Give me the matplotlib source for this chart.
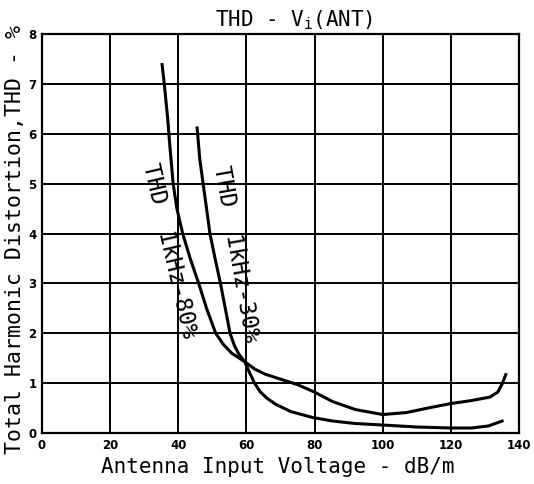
import numpy as np
import matplotlib
matplotlib.use("Agg")
import matplotlib.pyplot as plt

plt.rcParams['font.family'] = ['DejaVu Sans Mono', 'DejaVu Sans']

# curve: THD at 1kHz, 80% modulation
x80 = [35.2, 35.9, 36.9, 37.6, 38.5, 39.6, 41.3, 43.5, 46.0, 48.3, 51.0, 53.2, 55.7,
       59.5, 62.5, 65.5, 70.0, 75.0, 80.0, 85.3, 92.0, 100.0, 107.0, 114.0, 120.0,
       126.0, 131.5, 133.8, 135.2, 136.3]
y80 = [7.42, 7.0, 6.3, 5.7, 5.0, 4.5, 4.0, 3.5, 3.0, 2.5, 2.0, 1.78, 1.6,
       1.43, 1.28, 1.18, 1.08, 0.97, 0.82, 0.63, 0.47, 0.37, 0.41, 0.51, 0.59,
       0.65, 0.72, 0.82, 1.0, 1.2]

# THD at 1kHz, 30% modulation
x30 = [45.5, 46.3, 47.3, 48.3, 49.3, 50.8, 52.4, 53.8, 55.2, 56.5, 57.8, 59.5, 61.0,
       62.4, 64.0, 66.0, 68.5, 73.0, 79.5, 85.3, 92.0, 100.0, 110.0, 120.0, 126.0,
       131.0, 135.5]
y30 = [6.15, 5.5, 5.0, 4.5, 4.0, 3.5, 3.0, 2.5, 2.0, 1.75, 1.58, 1.43, 1.2,
       1.0, 0.83, 0.7, 0.58, 0.43, 0.31, 0.24, 0.19, 0.16, 0.12, 0.1, 0.1,
       0.14, 0.25]

xticks = [0, 20, 40, 60, 80, 100, 120, 140]
yticks = [0, 1, 2, 3, 4, 5, 6, 7, 8]

fig = plt.figure(figsize=(5.34, 4.84), dpi=100)
ax = fig.add_axes([0.0787, 0.1054, 0.893, 0.824])

ax.plot(x80, y80, color='black', lw=2.2, solid_capstyle='butt', solid_joinstyle='round')
ax.plot(x30, y30, color='black', lw=2.2, solid_capstyle='butt', solid_joinstyle='round')

ax.set_xlim(0, 140)
ax.set_ylim(0, 8)
ax.set_xticks(xticks)
ax.set_yticks(yticks)
ax.set_xticklabels([str(t) for t in xticks], fontsize=8.5, fontweight='bold', family='DejaVu Sans')
ax.set_yticklabels([str(t) for t in yticks], fontsize=8.5, fontweight='bold', family='DejaVu Sans')
ax.tick_params(length=0, pad=4)
ax.grid(True, color='black', lw=1.4)
for s in ax.spines.values():
    s.set_linewidth(1.6)

# curve labels (rotated along the lines)
ax.text(37.4, 3.65, 'THD  1kHz-80%', rotation=-77, fontsize=16.5,
        ha='center', va='center', rotation_mode='anchor')
ax.text(57.0, 3.6, 'THD  1kHz-30%', rotation=-80, fontsize=16.5,
        ha='center', va='center', rotation_mode='anchor')

fig.text(0.55, 0.959, r'THD - V$_\mathregular{i}$(ANT)', fontsize=15, ha='center', va='center')
fig.text(0.521, 0.035, 'Antenna Input Voltage - dB/m', fontsize=15, ha='center', va='center')
fig.text(0.028, 0.505, 'Total Harmonic Distortion,THD - %', fontsize=15.5,
         rotation=90, ha='center', va='center')

fig.savefig('out.png', dpi=100)
